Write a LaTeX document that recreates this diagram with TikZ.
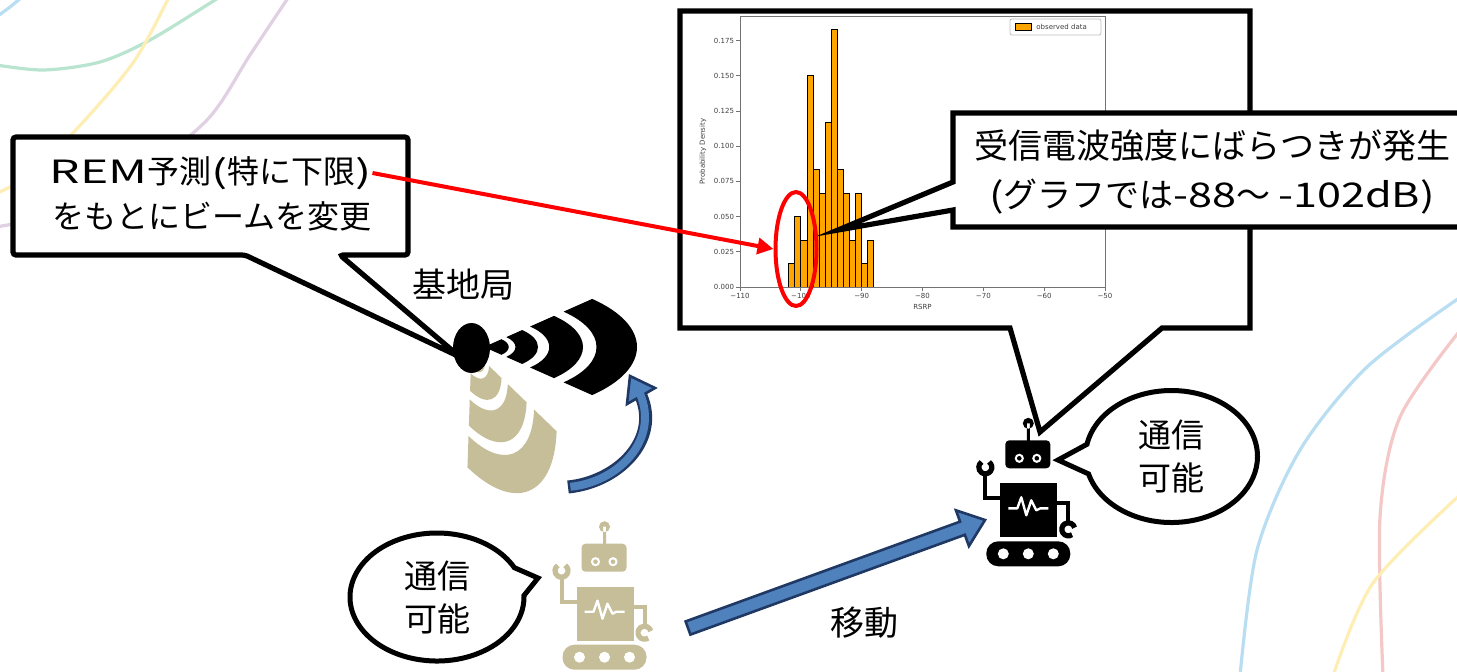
\documentclass[tikz,border=0pt]{standalone}
\usepackage{fontspec}
\setmainfont{Noto Sans CJK JP}
\newfontfamily\plotfont{DejaVu Sans}
\usetikzlibrary{shapes.geometric,shapes.callouts,arrows.meta,calc}

\definecolor{tanicon}{RGB}{197,190,152}
\definecolor{arrowblue}{RGB}{79,129,189}
\definecolor{arrowedge}{RGB}{31,56,100}
\definecolor{barorange}{RGB}{255,165,0}
\definecolor{arcgreen}{RGB}{185,228,208}
\definecolor{arcyellow}{RGB}{255,238,180}
\definecolor{arcpurple}{RGB}{225,208,228}
\definecolor{arcblue}{RGB}{185,222,242}
\definecolor{arcpink}{RGB}{245,200,200}

% wider latin letters inside the japanese lines
\newcommand\stretched[2]{{\addfontfeature{FakeStretch=#1}#2}}

\begin{document}
\begin{tikzpicture}
[x=0.5pt,y=-0.5pt,%
  every node/.style={inner sep=0pt},%
  jp/.style={font=\fontsize{17}{24.5}\selectfont,align=center},%
  calloutbox/.style={draw,line width=2.6pt,fill=white},%
  bubble/.style={ellipse callout,draw,line width=2.5pt,fill=white,callout pointer arc=26,%
    font=\fontsize{16.5}{21.5}\selectfont,align=center},%
  blockarrow/.style={fill=arrowblue,draw=arrowedge,line width=1.3pt},%
  bgarc/.style={line width=1.6pt},%
  ticklabel/.style={font=\plotfont\fontsize{3.5}{4}\selectfont,text=black!75},%
  robot/.pic={
    \fill (0,0) circle[radius=5.5] (-1.5,0) rectangle (1.5,18);
    \fill[rounded corners=2pt] (-23,17) rectangle (22,45);
    \fill[white] (-9,35) circle[radius=4.6] (8.5,35) circle[radius=4.6];
    \fill (-9,35) circle[radius=2.3] (8.5,35) circle[radius=2.3];
    \fill (-28,60) rectangle (29,114);
    \draw[white,line width=1.2pt,line join=round] (-20,85) -- (-11,85) -- (-7,74) -- (-2,92)
      -- (3,77) -- (8,87) -- (12,85) -- (20,85);
    % arms and wrenches
    \draw[line width=2pt] (-28,75) -| (-43,51);
    \draw[line width=2.6pt] (-43,44) ++(-55:6.5) arc[start angle=-55,end angle=235,radius=6.5];
    \draw[line width=2pt] (29,80) -| (40,99);
    \draw[line width=2.6pt] (40,106) ++(55:6.5) arc[start angle=55,end angle=345,radius=6.5];
    % tracks
    \fill[rounded corners=6pt] (-42,118) rectangle (42,143);
    \fill[white] (-25,130.5) circle[radius=5.5] (0,130.5) circle[radius=5.5] (25,130.5) circle[radius=5.5];
  }]
\useasboundingbox (0,0) rectangle (1457,671);
\clip (0,0) rectangle (1457,671);
\fill[white] (0,0) rectangle (1457,671);

% background lines
\draw[bgarc,arcgreen] plot[smooth] coordinates {(-10,64) (43,70) (100,62) (150,40) (215,0) (235,-12)};
\draw[bgarc,arcyellow] plot[smooth] coordinates {(-10,196) (30,175) (85,120) (135,60) (170,-5)};
\draw[bgarc,arcpurple] plot[smooth] coordinates {(-10,228) (50,215) (130,180) (207,120) (250,55) (290,-5)};
\draw[bgarc,arcblue] plot[smooth] coordinates {(-5,18) (10,7) (22,-3)};
\draw[bgarc,arcblue] plot[smooth] coordinates {(1462,296) (1367,367) (1300,450) (1257,550) (1240,676)};
\draw[bgarc,arcpink] plot[smooth] coordinates {(1462,328) (1400,417) (1380,517) (1383,676)};
\draw[bgarc,arcyellow] plot[smooth] coordinates {(1462,493) (1373,583) (1333,676)};

% measured histogram with its callout frame
\draw[calloutbox] (680,11) -- (1250,11) -- (1250,328) -- (1162,328) -- (1040,432)
  -- (1010,328) -- (680,328) -- cycle;
\begin{scope}[shift={(740,287)},x=3.0415pt,y=70.4pt]
  \foreach \k [count=\i from 8] in {1,3,2,9,5,4,7,11,5,4,2,4,1,2}
    \filldraw[fill=barorange,draw=black,line width=0.35pt] (\i,0) rectangle (\i+1,\k/6);
  \draw[black!55,line width=0.4pt] (0,0) rectangle (60,1.925);
  \foreach \t/\lab in {0/0.000,0.25/0.025,0.5/0.050,0.75/0.075,1/0.100,1.25/0.125,1.5/0.150,1.75/0.175}
    \draw[black!55,line width=0.4pt] (0,\t) -- ++(-2pt,0) node[ticklabel,left=0.8pt] {\lab};
  \foreach \d in {110,100,...,50}
    \draw[black!55,line width=0.4pt] (110-\d,0) -- ++(0,-2pt) node[ticklabel,below=1pt] {−\d};
  \node[ticklabel] (xname) at (30,0) [below=8.5pt] {RSRP};
  \node[ticklabel,rotate=90] (yname) at (-6.1,0.9625) {Probability Density};
\end{scope}
\draw[black!25,line width=0.4pt,rounded corners=1pt,fill=white] (1010,19) rectangle (1101,35);
\filldraw[fill=barorange,draw=black,line width=0.35pt] (1015,23.5) rectangle (1031,30);
\node[ticklabel,anchor=west] (legtext) at (1036,27) {observed data};

\draw[calloutbox] (953,113) -- (1480,113) -- (1480,227) -- (953,227) -- (953,210)
  -- (838,230) -- (953,182) -- cycle;
\node[jp] (spread) at (1212,172) {受信電波強度にばらつきが発生\\
  \stretched{1.27}{(}グラフでは\stretched{1.27}{-88}～ \stretched{1.27}{-102dB)}};
\node[draw=red,ellipse,line width=2pt,minimum width=20.5pt,minimum height=57pt] (lowring) at (796,249) {};

% base station
\draw[calloutbox,rounded corners=1.5pt] (13,137) -- (408,137) -- (408,255) -- (340,255)
  -- (460,357) -- (245,255) -- (13,255) -- cycle;
\node[font=\fontsize{16}{21}\selectfont] (remtop) at (211,173) {\stretched{1.5}{REM}予測\stretched{1.5}{(}特に下限\stretched{1.5}{)}};
\node[font=\fontsize{16}{21}\selectfont] (rembot) at (212,216) {をもとにビームを変更};
\node[jp] (bslabel) at (463,285) {基地局};
\foreach \dir/\col/\px/\py in {68/tanicon/471.5/349,0/black/484/347}{
  \begin{scope}[shift={(\px,\py)},rotate=-\dir,xscale=2.25]
    \fill[\col] (0,0) -- (-45:11) arc[start angle=-45,end angle=45,radius=11] -- cycle;
    \foreach \ri/\ro in {14/24,29/44,50/68}
      \fill[\col] (-45:\ri) arc[start angle=-45,end angle=45,radius=\ri]
        -- (45:\ro) arc[start angle=45,end angle=-45,radius=\ro] -- cycle;
  \end{scope}
}
\node[ellipse,fill=black,minimum width=18.5pt,minimum height=25pt] (bs) at (471.5,348) {};

% beam turn
\draw[arrowedge,line width=6.5pt] (568,487) .. controls (618,482) and (660,440) .. (641,396);
\filldraw[blockarrow] (655,388) -- (630,376) -- (627,404) -- cycle;
\draw[arrowblue,line width=4pt,shorten <=1.2pt,shorten >=-1.5pt] (568,487) .. controls (618,482) and (660,440) .. (641,396);

\draw[red,line width=2pt,-{Triangle[length=8pt,width=8pt]}] (remtop.east) -- (lowring.west);

% robots
\pic[color=tanicon] (oldbot) at (604.5,526.7) {robot};
\pic[color=black] (newbot) at (1028.3,423.3) {robot};
\node[bubble,minimum width=87pt,minimum height=64pt,callout absolute pointer={(538,578)}] (talkold) at (437,597) {通信\\可能};
\node[bubble,minimum width=86pt,minimum height=66pt,callout absolute pointer={(1058,460)}] (talknew) at (1171.5,456.5) {通信\\可能};

% move
\coordinate (mvtail) at (688,628);
\coordinate (mvtip) at (985,520);
\coordinate (mvbase) at ($(mvtip)!12pt!(mvtail)$);
\filldraw[blockarrow] ($(mvtail)!3.5pt!90:(mvtip)$) -- ($(mvbase)!3.5pt!-90:(mvtail)$)
  -- ($(mvbase)!9.5pt!-90:(mvtail)$) -- (mvtip) -- ($(mvbase)!9.5pt!90:(mvtail)$)
  -- ($(mvbase)!3.5pt!90:(mvtail)$) -- ($(mvtail)!3.5pt!-90:(mvtip)$) -- cycle;
\node[jp] (movelabel) at (864,623) {移動};
\end{tikzpicture}
\end{document}
